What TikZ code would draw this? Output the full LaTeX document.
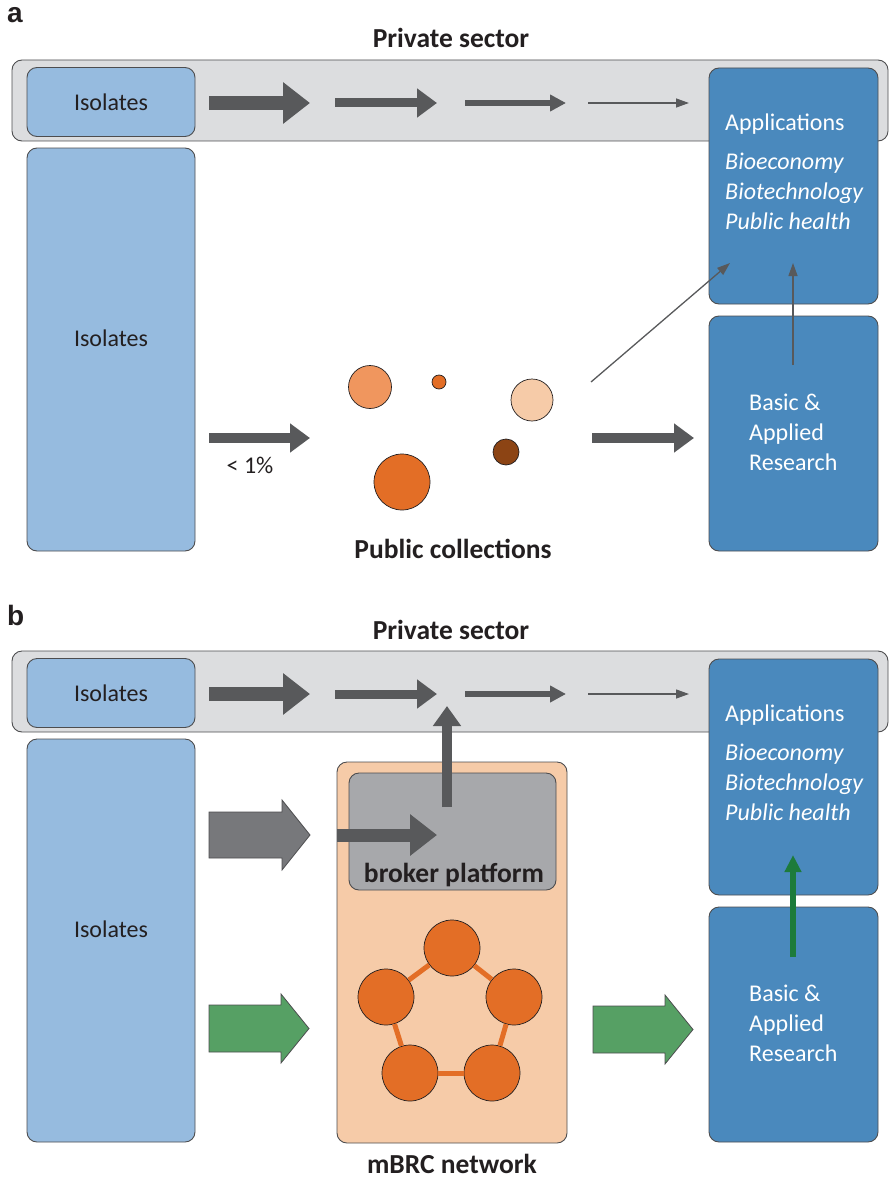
\documentclass[tikz,border=0pt]{standalone}
\usepackage{fontspec}
\setmainfont{Carlito}
\newfontfamily\labfont{Liberation Sans}
\usetikzlibrary{arrows.meta}

\definecolor{isoblue}{HTML}{96BBDF}
\definecolor{appblue}{HTML}{4A89BD}
\definecolor{bandgray}{HTML}{DCDDDF}
\definecolor{edgegray}{HTML}{4D4D4F}
\definecolor{arrgray}{HTML}{58595B}
\definecolor{brokergray}{HTML}{A7A8AB}
\definecolor{blockgray}{HTML}{77787B}
\definecolor{peach}{HTML}{F6CBA8}
\definecolor{salmon}{HTML}{F0965E}
\definecolor{rust}{HTML}{E36E26}
\definecolor{brownish}{HTML}{8C4414}
\definecolor{lightgreen}{HTML}{56A064}
\definecolor{darkgreen}{HTML}{1D7B3B}
\definecolor{inkdark}{HTML}{231F20}

\tikzset{
    box/.style={draw=edgegray, line width=0.9pt, rounded corners=10pt, inner sep=0pt},
    band/.style={box, fill=bandgray},
    isobox/.style={box, fill=isoblue, text=inkdark, font=\fontsize{24}{29.5}\selectfont},
    appbox/.style={box, fill=appblue},
    whitetxt/.style={text=white, align=left, inner sep=0pt, font=\fontsize{24}{30}\selectfont},
    headline/.style={text=inkdark, inner sep=0pt, font=\bfseries\fontsize{27.5}{32}\selectfont},
    panellab/.style={text=inkdark, inner sep=0pt, font=\labfont\bfseries\fontsize{28}{30}\selectfont},
    dot/.style={shape=circle, draw=inkdark, line width=0.7pt, inner sep=0pt},
    hub/.style={dot, fill=rust, minimum size=56pt},
    netlink/.style={draw=rust, line width=5pt},
    bigarr/.style={draw=arrgray, line width=14pt, -{Triangle[length=27pt,width=40pt]}},
    midarr/.style={draw=arrgray, line width=9pt, -{Triangle[length=20pt,width=28pt]}},
    smallarr/.style={draw=arrgray, line width=6pt, -{Triangle[length=16pt,width=16pt]}},
    thinarr/.style={draw=arrgray, line width=1.3pt, -{Triangle[length=13pt,width=9pt]}},
    blockarr/.style={draw=edgegray, line width=0.8pt, line join=miter}
}

% #1 style, #2 tail x, #3 head start x, #4 tip x, #5 mid y, #6 half shaft, #7 half head
\newcommand{\blockarrow}[7]{%
    \draw[blockarr, #1] (#2,{#5-#6}) -- (#3,{#5-#6}) -- (#3,{#5-#7}) -- (#4,#5)
        -- (#3,{#5+#7}) -- (#3,{#5+#6}) -- (#2,{#5+#6}) -- cycle;}

\begin{document}
\begin{tikzpicture}[x=1pt, y=-1pt]
    \useasboundingbox (0,0) rectangle (889,1180);

    % panel a
    \node[panellab, anchor=base west] (laba) at (7,23) {a};
    \node[headline, anchor=base] (privA) at (451,48) {Private sector};
    \node[band, minimum width=876pt, minimum height=81pt] (bandA) at (450,100.5) {};
    \node[isobox, minimum width=168pt, minimum height=69pt] (isoAtop) at (111,102) {Isolates};
    \node[isobox, minimum width=168pt, minimum height=403pt,
          label={[isobox, draw=none, fill=none, yshift=11pt]center:Isolates}] (isoA) at (111,349.5) {};
    \node[appbox, minimum width=169pt, minimum height=236pt] (appA) at (793.5,186) {};
    \node[appbox, minimum width=169pt, minimum height=235pt] (resA) at (793.5,433.5) {};
    \node[whitetxt, anchor=north west] (appAtxt) at (725,114)
        {Applications\\[8.5pt] \textit{Bioeconomy}\\ \textit{Biotechnology}\\ \textit{Public health}};
    \node[whitetxt, anchor=north west] (resAtxt) at (749,394) {Basic \&\\ Applied\\ Research};

    \node[dot, fill=salmon, minimum size=43pt] (colA1) at (370,387) {};
    \node[dot, fill=rust, minimum size=14pt] (colA2) at (439,382) {};
    \node[dot, fill=peach, minimum size=42pt] (colA3) at (532,400) {};
    \node[dot, fill=brownish, minimum size=26pt] (colA4) at (506,452) {};
    \node[dot, fill=rust, minimum size=56pt] (colA5) at (402,482) {};
    \node[headline, anchor=base] (pubA) at (453,558) {Public collections};

    \coordinate (rA0) at (209,103);  \coordinate (rA1) at (310,103);
    \coordinate (rA2) at (335,103);  \coordinate (rA3) at (437,103);
    \coordinate (rA4) at (465,103);  \coordinate (rA5) at (566,103);
    \coordinate (rA6) at (588,103);  \coordinate (rA7) at (689,103);
    \draw[bigarr] (rA0) -- (rA1);
    \draw[midarr] (rA2) -- (rA3);
    \draw[smallarr] (rA4) -- (rA5);
    \draw[thinarr] (rA6) -- (rA7);

    \coordinate (inA0) at (209,438); \coordinate (inA1) at (310,438);
    \coordinate (outA0) at (592,438); \coordinate (outA1) at (694,438);
    \draw[midarr, line width=10pt] (inA0) -- (inA1);
    \node[text=inkdark, inner sep=0pt, anchor=base, font=\fontsize{24}{28}\selectfont] (pct) at (250,473) {< 1\%};
    \draw[midarr, line width=10pt] (outA0) -- (outA1);
    \coordinate (diagA0) at (591,382); \coordinate (diagA1) at (730,263);
    \coordinate (upA0) at (793,365);   \coordinate (upA1) at (793,263);
    \draw[thinarr] (diagA0) -- (diagA1);
    \draw[thinarr] (upA0) -- (upA1);

    % panel b
    \node[panellab, anchor=base west] (labb) at (7,625) {b};
    \node[headline, anchor=base] (privB) at (451,639) {Private sector};
    \node[band, minimum width=876pt, minimum height=81pt] (bandB) at (450,691.5) {};
    \node[isobox, minimum width=168pt, minimum height=69pt] (isoBtop) at (111,693) {Isolates};
    \node[isobox, minimum width=168pt, minimum height=403pt,
          label={[isobox, draw=none, fill=none, yshift=11pt]center:Isolates}] (isoB) at (111,940.5) {};
    \node[appbox, minimum width=169pt, minimum height=236pt] (appB) at (793.5,777) {};
    \node[appbox, minimum width=169pt, minimum height=235pt] (resB) at (793.5,1024.5) {};
    \node[whitetxt, anchor=north west] (appBtxt) at (725,705)
        {Applications\\[8.5pt] \textit{Bioeconomy}\\ \textit{Biotechnology}\\ \textit{Public health}};
    \node[whitetxt, anchor=north west] (resBtxt) at (749,985) {Basic \&\\ Applied\\ Research};

    \node[box, fill=peach, minimum width=230pt, minimum height=381pt] (mbrc) at (452,952.5) {};
    \node[box, fill=brokergray, minimum width=207pt, minimum height=117pt] (broker) at (452.5,831.5) {};
    \node[headline, anchor=base] (brokertxt) at (454,882) {broker platform};
    \node[headline, anchor=base] (mbrctxt) at (452,1173) {mBRC network};

    \node[hub] (hub1) at (452,948) {};
    \node[hub] (hub2) at (514,997) {};
    \node[hub] (hub3) at (492,1073) {};
    \node[hub] (hub4) at (410,1073) {};
    \node[hub] (hub5) at (386,997) {};
    \path[netlink] (hub1) -- (hub2);
    \path[netlink] (hub2) -- (hub3);
    \path[netlink] (hub3) -- (hub4);
    \path[netlink] (hub4) -- (hub5);
    \path[netlink] (hub5) -- (hub1);

    \coordinate (rB0) at (209,694);  \coordinate (rB1) at (310,694);
    \coordinate (rB2) at (335,694);  \coordinate (rB3) at (437,694);
    \coordinate (rB4) at (465,694);  \coordinate (rB5) at (566,694);
    \coordinate (rB6) at (588,694);  \coordinate (rB7) at (689,694);
    \draw[bigarr] (rB0) -- (rB1);
    \draw[midarr] (rB2) -- (rB3);
    \draw[smallarr] (rB4) -- (rB5);
    \draw[thinarr] (rB6) -- (rB7);

    \blockarrow{fill=blockgray}{209}{282}{310}{835}{23}{35}
    \blockarrow{fill=lightgreen}{209}{281}{309}{1028.5}{23.5}{34.5}
    \blockarrow{fill=lightgreen}{593}{665}{693}{1029.5}{23.5}{34.5}

    \coordinate (brkin0) at (337,835); \coordinate (brkin1) at (437,835);
    \coordinate (brkup0) at (447,807); \coordinate (brkup1) at (447,706);
    \draw[bigarr, line width=13pt] (brkin0) -- (brkin1);
    \draw[midarr, line width=10pt, -{Triangle[length=20pt,width=27pt]}] (brkup0) -- (brkup1);

    \coordinate (grn0) at (793,957); \coordinate (grn1) at (793,855);
    \draw[smallarr, draw=darkgreen, line width=5.5pt, -{Triangle[length=17pt,width=16pt]}] (grn0) -- (grn1);
\end{tikzpicture}
\end{document}
